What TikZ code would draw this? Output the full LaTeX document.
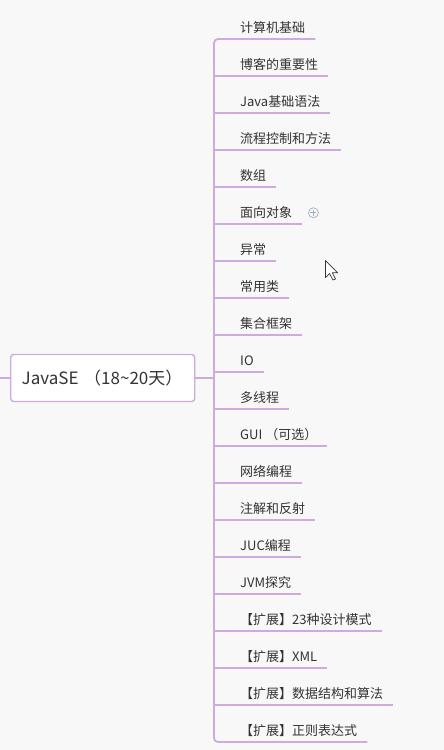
\documentclass[tikz,border=0pt]{standalone}
\usepackage{fontspec}
\setmainfont{Noto Sans CJK SC}
\definecolor{branch}{RGB}{206, 170, 222}
\definecolor{ink}{RGB}{51, 51, 51}
\definecolor{canvas}{RGB}{248, 248, 248}
\definecolor{expander}{RGB}{160, 176, 196}
\usetikzlibrary{calc,positioning}
\tikzset{
  link/.style={draw=branch, line width=1.8pt},
  topic/.style={anchor=south west, inner xsep=10pt, inner ysep=6pt,
    text height=10pt, text depth=0pt, text=ink,
    font=\fontsize{13}{15}\selectfont},
  root/.style={draw=branch, line width=1.4pt, fill=white, rounded corners=3pt,
    anchor=west, minimum height=47pt, text width=162pt, align=left,
    inner xsep=11pt, text=ink, font=\fontsize{17}{20}\selectfont}
}

\begin{document}
\begin{tikzpicture}[x=1pt, y=-1pt]
  \fill[canvas] (0,0) rectangle (444,750);
  \useasboundingbox (0,0) rectangle (444,750);

  \coordinate (parent) at (0,378);
  \coordinate (trunk) at (214,378);
  \node[root] (javase) at (10,378) {JavaSE （18\textasciitilde 20天）};

  \foreach \txt [count=\i] in {计算机基础, 博客的重要性, Java基础语法, 流程控制和方法,
      数组, 面向对象, 异常, 常用类, 集合框架, IO, 多线程, GUI （可选）, 网络编程,
      注解和反射, JUC编程, JVM探究, 【扩展】23种设计模式, 【扩展】XML,
      【扩展】数据结构和算法, 【扩展】正则表达式}
    \node[topic] (t\i) at (230, 39+37*\i-37) {\txt};

  \draw[link] (parent) -- (javase.west);
  \draw[link] (javase.east) -- (trunk);
  \draw[link, rounded corners=4pt] (t1.south east) -- (trunk |- t1.south)
    -- (trunk |- t20.south) -- (t20.south east);
  \foreach \i in {2,...,19}
    \draw[link] (trunk |- t\i.south) -- (t\i.south east);

  % expand mark
  \node[draw=expander, circle, line width=0.7pt, minimum size=10pt, inner sep=0pt,
    right=11pt of t6.east, anchor=center] (more) {};
  \draw[expander, line width=0.7pt] ($(more)+(-3,0)$) -- ($(more)+(3,0)$)
    ($(more)+(0,-3)$) -- ($(more)+(0,3)$);

  % mouse pointer
  \draw[fill=white, draw=ink, line width=0.7pt, line join=round, shift={(325.5,260.5)}]
    (0,0) -- (0,17) -- (4,13) -- (7.5,19.5) -- (10,18.5) -- (6.8,12.2) -- (12,12.2) -- cycle;
\end{tikzpicture}
\end{document}
